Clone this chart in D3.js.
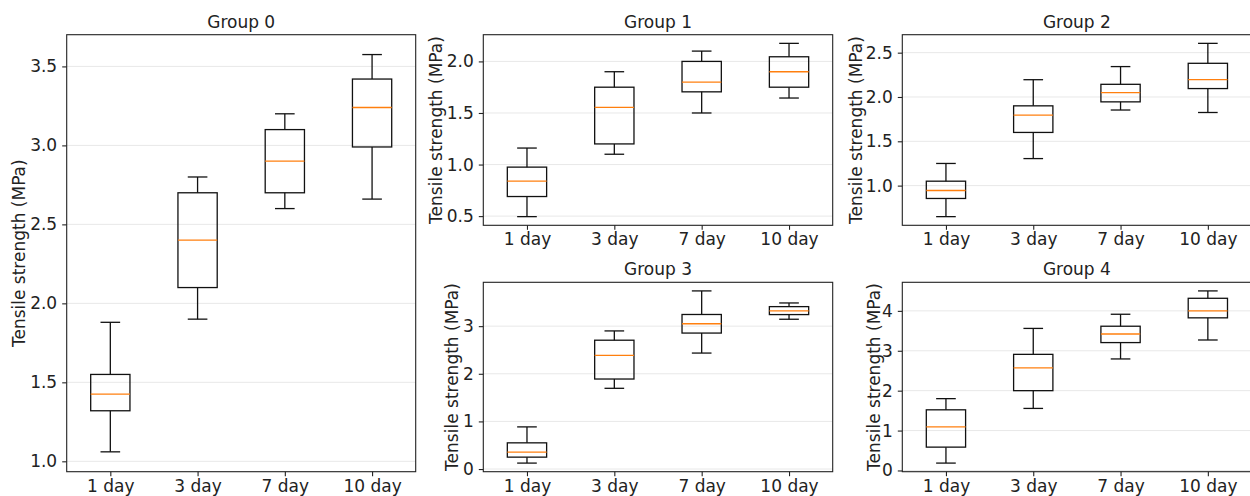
<!DOCTYPE html>
<html>
<head>
<meta charset="utf-8">
<script src="https://cdn.jsdelivr.net/npm/d3@7"></script>
<style>
  body { margin: 0; background: #fff; }
  svg { display: block; }
</style>
</head>
<body>
<div id="vis"></div>
<script>
const WIDTH = 1250;
const HEIGHT = 496;
const FONT = "DejaVu Sans, sans-serif";
const FONT_SIZE = 17;

const DAYS = ["1 day", "3 day", "7 day", "10 day"];
const GROUP_NAMES = ["Group 0", "Group 1", "Group 2", "Group 3", "Group 4"];

// box stats per group, one entry per day: [whisker low, q1, median, q3, whisker high]
const group0 = [[1.06, 1.32, 1.425, 1.55, 1.88], [1.90, 2.10, 2.40, 2.70, 2.80], [2.60, 2.70, 2.90, 3.10, 3.20], [2.66, 2.99, 3.24, 3.42, 3.575]];
const group1 = [[0.495, 0.69, 0.84, 0.975, 1.16], [1.10, 1.20, 1.555, 1.75, 1.90], [1.50, 1.705, 1.80, 2.00, 2.10], [1.645, 1.75, 1.90, 2.045, 2.175]];
const group2 = [[0.65, 0.855, 0.945, 1.05, 1.25], [1.305, 1.60, 1.795, 1.90, 2.195], [1.853, 1.945, 2.05, 2.143, 2.343], [1.825, 2.095, 2.195, 2.38, 2.605]];
const group3 = [[0.125, 0.25, 0.355, 0.55, 0.885], [1.695, 1.89, 2.385, 2.705, 2.90], [2.435, 2.855, 3.05, 3.245, 3.74], [3.145, 3.243, 3.32, 3.41, 3.487]];
const group4 = [[0.185, 0.585, 1.095, 1.52, 1.80], [1.555, 2.00, 2.57, 2.91, 3.56], [2.795, 3.205, 3.42, 3.615, 3.915], [3.27, 3.825, 4.00, 4.315, 4.50]];

const yTicks0 = [1.0, 1.5, 2.0, 2.5, 3.0, 3.5];
const yTicks1 = [0.5, 1.0, 1.5, 2.0];
const yTicks2 = [1.0, 1.5, 2.0, 2.5];
const yTicks3 = [0, 1, 2, 3];
const yTicks4 = [0, 1, 2, 3, 4];

const GROUPS = [group0, group1, group2, group3, group4];
const TICKS = [yTicks0, yTicks1, yTicks2, yTicks3, yTicks4];
const FORMATS = [".1f", ".1f", ".1f", "d", "d"];

// panel frames (left, top, right, bottom)
const PANELS = [
  {x0: 66.7, y0: 34.7, x1: 415.7, y1: 471.7, labelX: 19},
  {x0: 483.3, y0: 34.7, x1: 832.7, y1: 225.3, labelX: 436},
  {x0: 902.3, y0: 34.7, x1: 1251.5, y1: 225.3, labelX: 856},
  {x0: 483.3, y0: 282.3, x1: 832.7, y1: 471.7, labelX: 452},
  {x0: 902.3, y0: 282.3, x1: 1251.5, y1: 471.7, labelX: 874}
];

const BOX_W = 0.45;
const CAP_W = 0.225;

const svg = d3.select("#vis")
  .append("svg")
  .attr("width", WIDTH)
  .attr("height", HEIGHT);

function build_panel(i) {
  const P = PANELS[i];
  const data = GROUPS[i];

  const lo = d3.min(data, d => d[0]);
  const hi = d3.max(data, d => d[4]);
  const pad = (hi - lo) * 0.05;

  const X = d3.scaleLinear().domain([0.5, 4.5]).range([P.x0, P.x1]);
  const Y = d3.scaleLinear().domain([lo - pad, hi + pad]).range([P.y1, P.y0]);

  const g = svg.append("g");

  // grid
  g.selectAll(".grid")
    .data(TICKS[i])
    .enter().append("line")
    .attr("x1", P.x0).attr("x2", P.x1)
    .attr("y1", d => Y(d)).attr("y2", d => Y(d))
    .attr("stroke", "#e8e8e8")
    .attr("stroke-width", 1);

  // boxes
  const box = g.selectAll(".box")
    .data(data)
    .enter().append("g");

  box.append("line") // lower whisker
    .attr("x1", (d, j) => X(j + 1)).attr("x2", (d, j) => X(j + 1))
    .attr("y1", d => Y(d[0])).attr("y2", d => Y(d[1]));
  box.append("line") // upper whisker
    .attr("x1", (d, j) => X(j + 1)).attr("x2", (d, j) => X(j + 1))
    .attr("y1", d => Y(d[3])).attr("y2", d => Y(d[4]));
  box.append("line") // low cap
    .attr("x1", (d, j) => X(j + 1 - CAP_W / 2)).attr("x2", (d, j) => X(j + 1 + CAP_W / 2))
    .attr("y1", d => Y(d[0])).attr("y2", d => Y(d[0]));
  box.append("line") // high cap
    .attr("x1", (d, j) => X(j + 1 - CAP_W / 2)).attr("x2", (d, j) => X(j + 1 + CAP_W / 2))
    .attr("y1", d => Y(d[4])).attr("y2", d => Y(d[4]));
  box.selectAll("line").attr("stroke", "#111").attr("stroke-width", 1.3);

  box.append("rect")
    .attr("x", (d, j) => X(j + 1 - BOX_W / 2))
    .attr("width", X(1 + BOX_W) - X(1))
    .attr("y", d => Y(d[3]))
    .attr("height", d => Y(d[1]) - Y(d[3]))
    .attr("fill", "none")
    .attr("stroke", "#111")
    .attr("stroke-width", 1.3);

  box.append("line") // median
    .attr("x1", (d, j) => X(j + 1 - BOX_W / 2)).attr("x2", (d, j) => X(j + 1 + BOX_W / 2))
    .attr("y1", d => Y(d[2])).attr("y2", d => Y(d[2]))
    .attr("stroke", "#ff7f0e")
    .attr("stroke-width", 1.3);

  // axes
  const xAxis = g.append("g")
    .attr("transform", "translate(0," + P.y1 + ")")
    .call(d3.axisBottom(X).tickValues([1, 2, 3, 4]).tickFormat((d, j) => DAYS[j]).tickSizeOuter(0).tickSize(4.5).tickPadding(3.5));
  const yAxis = g.append("g")
    .attr("transform", "translate(" + P.x0 + ",0)")
    .call(d3.axisLeft(Y).tickValues(TICKS[i]).tickFormat(d3.format(FORMATS[i])).tickSizeOuter(0).tickSize(4.5).tickPadding(5));
  [xAxis, yAxis].forEach(a => {
    a.attr("font-size", FONT_SIZE).attr("font-family", FONT);
    a.select(".domain").remove();
    a.selectAll(".tick line").attr("stroke", "#222").attr("stroke-width", 1.1);
    a.selectAll(".tick text").attr("fill", "#222");
  });

  // frame
  g.append("rect")
    .attr("x", P.x0).attr("y", P.y0)
    .attr("width", P.x1 - P.x0).attr("height", P.y1 - P.y0)
    .attr("fill", "none")
    .attr("stroke", "#222")
    .attr("stroke-width", 1.1);

  // title
  g.append("text")
    .attr("x", (P.x0 + P.x1) / 2)
    .attr("y", P.y0 - 7)
    .attr("text-anchor", "middle")
    .attr("font-family", FONT)
    .attr("font-size", FONT_SIZE)
    .attr("fill", "#222")
    .text(GROUP_NAMES[i]);

  // y label
  g.append("text")
    .attr("transform", "translate(" + P.labelX + "," + ((P.y0 + P.y1) / 2) + ") rotate(-90)")
    .attr("text-anchor", "middle")
    .attr("dominant-baseline", "central")
    .attr("font-family", FONT)
    .attr("font-size", FONT_SIZE)
    .attr("fill", "#222")
    .text("Tensile strength (MPa)");
}

GROUPS.forEach((d, i) => build_panel(i));
</script>
</body>
</html>
